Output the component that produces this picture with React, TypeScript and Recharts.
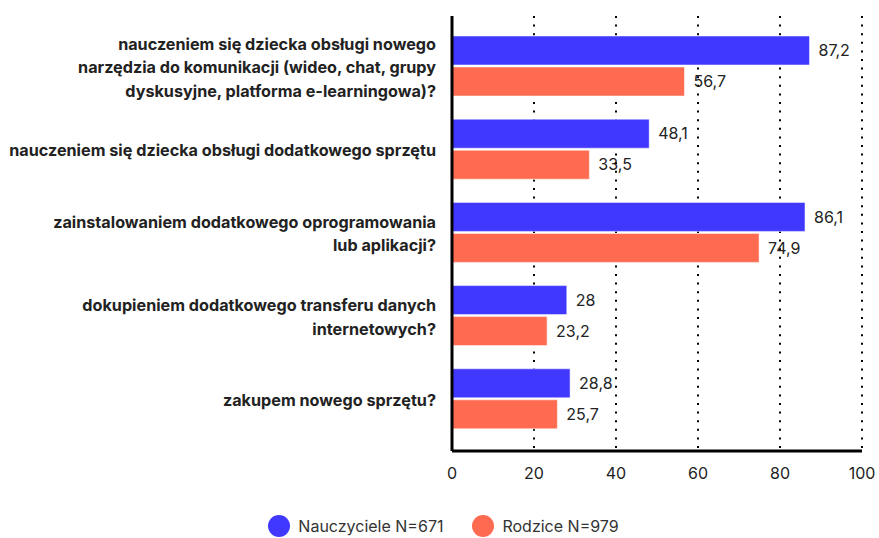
import React from "react";
import {
	Bar,
	BarChart,
	CartesianGrid,
	LabelList,
	Legend,
	XAxis,
	YAxis,
} from "recharts";

const categories = [
	"nauczeniem się dziecka obsługi nowego\nnarzędzia do komunikacji (wideo, chat, grupy\ndyskusyjne, platforma e-learningowa)?",
	"nauczeniem się dziecka obsługi dodatkowego sprzętu",
	"zainstalowaniem dodatkowego oprogramowania\nlub aplikacji?",
	"dokupieniem dodatkowego transferu danych\ninternetowych?",
	"zakupem nowego sprzętu?",
];
const teachers = [87.2, 48.1, 86.1, 28, 28.8];
const parents = [56.7, 33.5, 74.9, 23.2, 25.7];
const xTicks = [0, 20, 40, 60, 80, 100];
const seriesNames = ["Nauczyciele N=671", "Rodzice N=979"];

const BLUE = "#4038ff";
const ORANGE = "#ff6b50";
const FONT = "Inter, sans-serif";

const data = categories.map((name, i) => ({
	name,
	teachers: teachers[i],
	parents: parents[i],
}));

const fmt = (v: any) => String(v).replace(".", ",");

const CategoryTick = (props: any) => {
	const { x, y, payload } = props;
	const lines: string[] = String(payload.value).split("\n");
	const lh = 23.5;
	const start = y + 2 - ((lines.length - 1) * lh) / 2;
	return (
		<text
			x={x}
			y={start}
			textAnchor="end"
			fill="#222"
			fontSize={16.2}
			fontWeight={700}
			fontFamily={FONT}
		>
			{lines.map((l, i) => (
				<tspan key={i} x={x} y={start + i * lh} dy="0.35em">
					{l}
				</tspan>
			))}
		</text>
	);
};

const LegendContent = () => {
	const colors = [BLUE, ORANGE];
	return (
		<div
			style={{
				display: "flex",
				justifyContent: "center",
				alignItems: "center",
				height: 26,
				paddingLeft: 8,
				fontFamily: FONT,
				fontSize: 16,
				color: "#333",
			}}
		>
			{seriesNames.map((n, i) => (
				<div
					key={n}
					style={{ display: "flex", alignItems: "center", marginRight: i === 0 ? 29 : 0 }}
				>
					<span
						style={{
							width: 22,
							height: 22,
							borderRadius: 11,
							background: colors[i],
							display: "inline-block",
							marginRight: 8,
						}}
					/>
					<span>{n}</span>
				</div>
			))}
		</div>
	);
};

export default function App() {
	return (
		<div style={{ position: "absolute", left: 0, top: 0 }}>
			<BarChart
				width={879}
				height={545}
				data={data}
				layout="vertical"
				margin={{ top: 16, right: 17, left: 0, bottom: 0 }}
				barSize={29}
				barGap={2}
			>
				<CartesianGrid
					horizontal={false}
					stroke="#000"
					strokeWidth={2}
					strokeDasharray="2 6.6"
				/>
				<XAxis
					type="number"
					domain={[0, 100]}
					ticks={xTicks}
					height={64}
					tickSize={0}
					tickMargin={17}
					tick={{ fill: "#222", fontSize: 16, fontFamily: FONT }}
					axisLine={{ stroke: "#000", strokeWidth: 3 }}
				/>
				<YAxis
					type="category"
					dataKey="name"
					width={452}
					tickSize={0}
					tickMargin={16}
					tick={<CategoryTick />}
					axisLine={{ stroke: "#000", strokeWidth: 3 }}
					padding={{ top: 8, bottom: 11 }}
					interval={0}
				/>
				<Legend
					verticalAlign="bottom"
					height={30}
					wrapperStyle={{ left: 0, width: 879, bottom: 2 }}
					content={<LegendContent />}
				/>
				<Bar
					dataKey="teachers"
					name={seriesNames[0]}
					fill={BLUE}
					stroke="rgba(255,255,255,0.5)"
					isAnimationActive={false}
				>
					<LabelList
						dataKey="teachers"
						position="right"
						offset={9}
						formatter={fmt}
						style={{ fill: "#222", fontSize: 16, fontFamily: FONT }}
					/>
				</Bar>
				<Bar
					dataKey="parents"
					name={seriesNames[1]}
					fill={ORANGE}
					stroke="rgba(255,255,255,0.5)"
					isAnimationActive={false}
				>
					<LabelList
						dataKey="parents"
						position="right"
						offset={9}
						formatter={fmt}
						style={{ fill: "#222", fontSize: 16, fontFamily: FONT }}
					/>
				</Bar>
			</BarChart>
		</div>
	);
}
